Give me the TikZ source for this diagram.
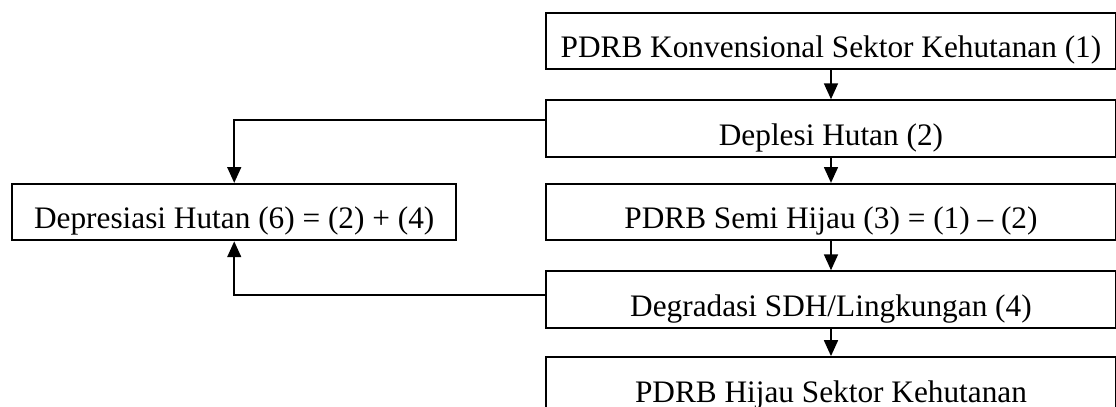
\documentclass[tikz,border=0pt]{standalone}
\usepackage{fontspec}
\setmainfont{Liberation Serif}
\usepackage{tikz}
\usetikzlibrary{arrows.meta,positioning,calc}

\begin{document}
\begin{tikzpicture}[
  every node/.style={font=\fontsize{12}{14}\selectfont},
  rblk/.style ={draw, line width=0.8pt,
                minimum width=7.68cm, inner ysep=0pt,
                text height=17.2pt, text depth=4.4pt,
                align=center},
  lblk/.style ={rblk, minimum width=5.99cm},
  arr/.style  ={->, line width=0.8pt},
  >={Triangle[width=5.3pt,length=6.1pt]}
]

%% ---- main column ------------------------------------------------------
\node[rblk]                        (konv)  at (0, 0) {PDRB Konvensional Sektor Kehutanan (1)};
\node[rblk, below=0.39 of konv]    (depl)  {Deplesi Hutan (2)};
\node[rblk, below=0.34 of depl]    (semi)  {PDRB Semi Hijau (3) = (1) -- (2)};
\node[rblk, below=0.39 of semi]    (degr)  {Degradasi SDH/Lingkungan (4)};
\node[rblk, below=0.37 of degr]    (hijau) {PDRB Hijau Sektor Kehutanan};

%% ---- side box -----------------------------------------------------------
\node[lblk, left=1.18 of semi]     (depr)  {Depresiasi Hutan (6) = (2) + (4)};

\draw[arr] (konv) -- (depl);
\draw[arr] (depl) -- (semi);
\draw[arr] (semi) -- (degr);
\draw[arr] (degr) -- (hijau);

% branches into the side box
\draw[arr] ([yshift=0.114cm]depl.west) -| (depr);
\draw[arr] ([yshift=0.06cm]degr.west)  -| (depr);

% page frame, bottom box runs off the edge
\pgfresetboundingbox
\useasboundingbox ($(depr.west |- konv.north)+(-0.148,0.161)$)
  rectangle ($(konv.east |- hijau.north)+(-0.013,-0.685)$);

\end{tikzpicture}
\end{document}
